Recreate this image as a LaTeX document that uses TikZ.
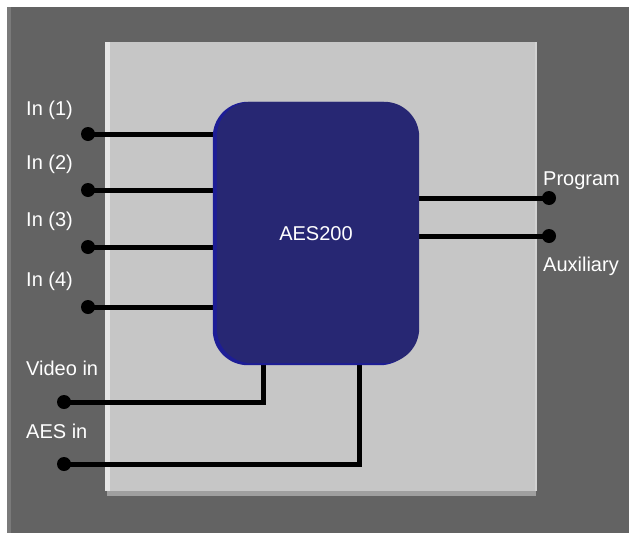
\documentclass[tikz,border=0pt]{standalone}
\usepackage{fontspec}
\setmainfont{Liberation Sans}
\usetikzlibrary{calc,positioning}

\definecolor{bggray}{HTML}{636363}
\definecolor{panelgray}{HTML}{C6C6C6}
\definecolor{boxblue}{HTML}{272773}

\begin{document}
\begin{tikzpicture}[x=1pt, y=-1pt,
  lbl/.style={text=white, font=\fontsize{20}{24}\selectfont, inner sep=0pt, anchor=base west},
  port/.style={circle, fill=black, inner sep=0pt, minimum size=14pt},
  wire/.style={line width=5pt}]

\useasboundingbox (0,0) rectangle (629,533);
\fill[bggray] (7,7) rectangle (629,533);
\fill[bggray!85!white] (7,7) rectangle (11,533);

% panel
\fill[gray!75] (107,46) rectangle (536,496);
\fill[panelgray] (105,42) rectangle (537,491);
\fill[gray!20] (105,42) rectangle (110,491);
\fill[gray!35] (535,42) rectangle (537,491);

% block outline only, filled after the wires
\node[minimum width=206pt, minimum height=263pt, inner sep=0pt] (aes) at (316,233.5) {};

% ports
\node[port] (in1) at (88,134) {};
\node[port] (in2) at (88,190) {};
\node[port] (in3) at (88,247) {};
\node[port] (in4) at (88,307) {};
\node[port] (vid) at (64,402) {};
\node[port] (aesin) at (64,464) {};
\node[port] (prog) at (549,198) {};
\node[port] (aux) at (549,236) {};

\coordinate (vidtap) at ($(aes.south west)+(51,0)$);
\coordinate (aestap) at ($(aes.south west)+(147,0)$);

\foreach \p in {in1,in2,in3,in4}
  \draw[wire] (\p.center) -- ($(\p -| aes.west)+(20,0)$);
\draw[wire] (vid.center) -| ($(vidtap)+(0,-20)$);
\draw[wire] (aesin.center) -| ($(aestap)+(0,-20)$);
\draw[wire] ($(aes.east |- prog)+(-20,0)$) -- (prog.center);
\draw[wire] ($(aes.east |- aux)+(-20,0)$) -- (aux.center);

% block body
\fill[boxblue!75!blue, rounded corners=35pt] (aes.north west) rectangle ($(aes.south east)+(-4,0)$);
\fill[boxblue, rounded corners=35pt] ($(aes.north west)+(4,0)$) rectangle ($(aes.south east)+(0,-2)$);
\node[text=white, font=\fontsize{20}{24}\selectfont] (aestxt) at (aes.center) {AES200};

% labels
\node[lbl] (l1) at (26,115) {In (1)};
\node[lbl] (l2) at (26,169) {In (2)};
\node[lbl] (l3) at (26,226) {In (3)};
\node[lbl] (l4) at (26,286) {In (4)};
\node[lbl] (lvid) at (26,375) {Video in};
\node[lbl] (laes) at (26,438) {AES in};
\node[lbl] (lprog) at (543,185) {Program};
\node[lbl] (laux) at (543,271) {Auxiliary};
\end{tikzpicture}
\end{document}
